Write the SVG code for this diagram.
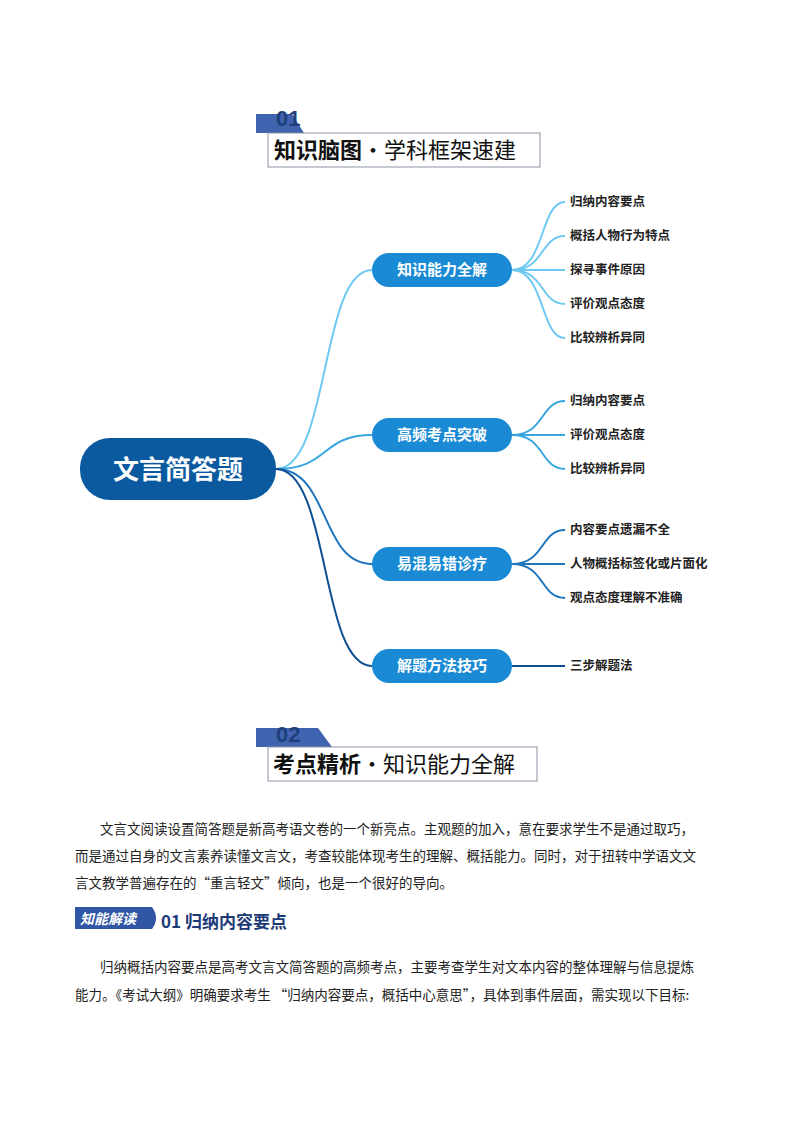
<svg xmlns="http://www.w3.org/2000/svg" width="794" height="1123" viewBox="0 0 794 1123">
<style>
.hd{font-family:"Noto Sans CJK SC",sans-serif;font-size:22px;fill:#111}
.num{font-family:"Liberation Sans",sans-serif;font-weight:bold;font-size:22px;fill:#1f3f7a}
.br{fill:#1a8ad4}
.bt{font-family:"Noto Sans CJK SC",sans-serif;font-weight:bold;font-size:15px;fill:#fff;text-anchor:middle}
.lf{font-family:"Noto Sans CJK SC",sans-serif;font-weight:bold;font-size:12.5px;fill:#222}
.p{font-family:"Noto Sans CJK SC",sans-serif;font-size:13.5px;fill:#222}
.c{fill:none;stroke-width:2}
</style>
<rect width="794" height="1123" fill="#fff"/>
<g id="header1">
<polygon points="256,114 292,114 304,133 256,133" fill="#3f63ae"/>
<text x="276" y="126" class="num">01</text>
<rect x="268" y="133" width="272" height="34" fill="#fff" stroke="#8a93a5"/>
<text x="274" y="158" class="hd"><tspan font-weight="bold">知识脑图</tspan>·学科框架速建</text>
</g>
<g id="connectors">
<path class="c" stroke="#6dc9f2" d="M276,469 C330,469 320,270 372,270"/>
<path class="c" stroke="#3aa6e0" d="M276,469 C330,469 320,435 372,435"/>
<path class="c" stroke="#1f74bd" d="M276,469 C330,469 320,564 372,564"/>
<path class="c" stroke="#0d4f92" d="M276,469 C330,469 320,666 372,666"/>
<g stroke="#6dc9f2" class="c" stroke-width="1.5">
<path d="M512,270 C545,270 540,202 565,202"/><path d="M512,270 C545,270 540,236 565,236"/><path d="M512,270 L565,270"/><path d="M512,270 C545,270 540,304 565,304"/><path d="M512,270 C545,270 540,338 565,338"/>
</g>
<g stroke="#3aa6e0" class="c" stroke-width="1.5">
<path d="M512,435 C545,435 540,401 565,401"/><path d="M512,435 L565,435"/><path d="M512,435 C545,435 540,469 565,469"/>
</g>
<g stroke="#1f74bd" class="c" stroke-width="1.5">
<path d="M512,564 C545,564 540,530 565,530"/><path d="M512,564 L565,564"/><path d="M512,564 C545,564 540,598 565,598"/>
</g>
<path class="c" stroke="#0d4f92" stroke-width="1.5" d="M512,666 L565,666"/>
</g>
<g id="root"><rect x="80" y="438" width="196" height="62" rx="30" fill="#0b5aa0"/>
<text x="178" y="479" text-anchor="middle" font-family="Noto Sans CJK SC,sans-serif" font-weight="bold" font-size="26" fill="#fff">文言简答题</text></g>
<g id="n1"><rect class="br" x="372" y="253" width="140" height="34" rx="17"/><text class="bt" x="442" y="275">知识能力全解</text></g>
<g id="n2"><rect class="br" x="372" y="418" width="140" height="34" rx="17"/><text class="bt" x="442" y="440">高频考点突破</text></g>
<g id="n3"><rect class="br" x="372" y="547" width="140" height="34" rx="17"/><text class="bt" x="442" y="569">易混易错诊疗</text></g>
<g id="n4"><rect class="br" x="372" y="649" width="140" height="34" rx="17"/><text class="bt" x="442" y="671">解题方法技巧</text></g>
<g id="leaves">
<text class="lf" x="570" y="206">归纳内容要点</text>
<text class="lf" x="570" y="240">概括人物行为特点</text>
<text class="lf" x="570" y="274">探寻事件原因</text>
<text class="lf" x="570" y="308">评价观点态度</text>
<text class="lf" x="570" y="342">比较辨析异同</text>
<text class="lf" x="570" y="405">归纳内容要点</text>
<text class="lf" x="570" y="439">评价观点态度</text>
<text class="lf" x="570" y="473">比较辨析异同</text>
<text class="lf" x="570" y="534">内容要点遗漏不全</text>
<text class="lf" x="570" y="568">人物概括标签化或片面化</text>
<text class="lf" x="570" y="602">观点态度理解不准确</text>
<text class="lf" x="570" y="670">三步解题法</text>
</g>
<g id="header2">
<polygon points="256,728 318,728 332,747 256,747" fill="#3f63ae"/>
<text x="276" y="742" class="num">02</text>
<rect x="268" y="747" width="269" height="34" fill="#fff" stroke="#8a93a5"/>
<text x="273" y="772" class="hd"><tspan font-weight="bold">考点精析</tspan>·知识能力全解</text>
</g>
<g id="body">
<text class="p" x="100" y="834">文言文阅读设置简答题是新高考语文卷的一个新亮点。主观题的加入，意在要求学生不是通过取巧，</text>
<text class="p" x="75" y="861">而是通过自身的文言素养读懂文言文，考查较能体现考生的理解、概括能力。同时，对于扭转中学语文文</text>
<text class="p" x="75" y="888">言文教学普遍存在的“重言轻文”倾向，也是一个很好的导向。</text>
<path d="M75,907 H152 Q160,918 152,929 H75 Z" fill="#2f55a4"/>
<text x="80" y="924" font-family="Noto Sans CJK SC,sans-serif" font-style="italic" font-weight="bold" font-size="14" fill="#fff">知能解读</text>
<text x="161" y="928" font-family="Noto Sans CJK SC,sans-serif" font-weight="bold" font-size="17" fill="#1d3a78">01 归纳内容要点</text>
<text class="p" x="100" y="972">归纳概括内容要点是高考文言文简答题的高频考点，主要考查学生对文本内容的整体理解与信息提炼</text>
<text class="p" x="75" y="1000">能力。《考试大纲》明确要求考生 “归纳内容要点，概括中心意思”，具体到事件层面，需实现以下目标:</text>
</g>
</svg>
